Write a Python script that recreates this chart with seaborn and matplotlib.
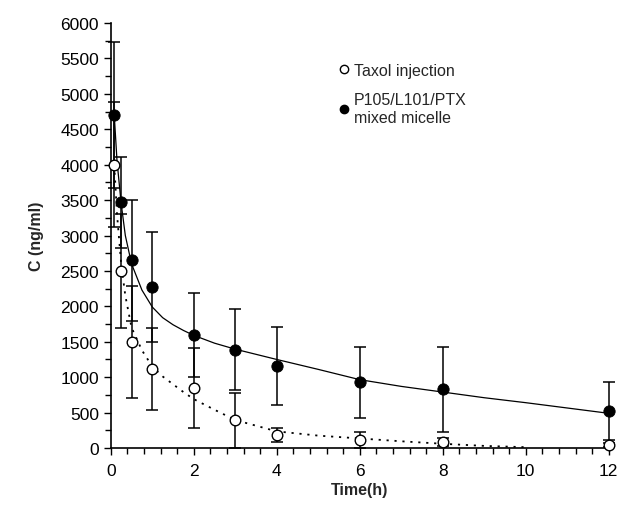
import numpy as np
import pandas as pd
import seaborn as sns
import matplotlib.pyplot as plt
from matplotlib.ticker import MultipleLocator
from matplotlib.lines import Line2D

# measured points (mean, sd)
time_pts = [0.083, 0.25, 0.5, 1, 2, 3, 4, 6, 8, 12]
taxol_mean = [4000, 2500, 1500, 1110, 850, 390, 180, 113, 85, 42]
taxol_sd = [880, 800, 790, 580, 565, 390, 100, 110, 50, 30]
micelle_mean = [4700, 3470, 2650, 2270, 1600, 1390, 1160, 930, 830, 520]
micelle_sd = [1030, 640, 850, 780, 595, 570, 550, 500, 600, 410]

# fitted curves
fit_time = [0.083, 0.15, 0.25, 0.35, 0.5, 0.75, 1, 1.25, 1.5, 1.75, 2, 2.5, 3, 4, 5, 6, 7, 8, 9, 10, 11, 12]
micelle_fit = [4700, 4050, 3450, 3000, 2600, 2230, 1990, 1840, 1740, 1660, 1590, 1480, 1395, 1250, 1110, 965, 870, 790, 710, 640, 565, 490]
taxol_fit = [4000, 3300, 2600, 2150, 1700, 1380, 1150, 1010, 900, 790, 690, 540, 395, 235, 175, 135, 95, 60, 30, 12, None, None]

sns.set_style("ticks")
plt.rcParams['font.family'] = ['Liberation Sans', 'DejaVu Sans']

fig = plt.figure(figsize=(6.19, 5.06), dpi=100)
ax = fig.add_axes([0.179, 0.1126, 0.8045, 0.84])

fit = pd.DataFrame({'t': fit_time, 'micelle': micelle_fit, 'taxol': taxol_fit})
sns.lineplot(data=fit, x='t', y='micelle', ax=ax, color='black', lw=0.9)
sns.lineplot(data=fit.dropna(), x='t', y='taxol', ax=ax, color='black', lw=1.3,
             linestyle=(0, (1.2, 3.2)))

for mean, sd in [(taxol_mean, taxol_sd), (micelle_mean, micelle_sd)]:
    eb = ax.errorbar(time_pts, mean, yerr=sd, fmt='none', ecolor='black',
                     elinewidth=1.1, capsize=4, capthick=1.1, zorder=3)
    for art in eb.lines[1] + eb.lines[2]:
        art.set_clip_on(False)

sns.scatterplot(x=time_pts, y=taxol_mean, ax=ax, marker='o', s=58,
                facecolor='white', edgecolor='black', linewidth=1.0, zorder=4,
                clip_on=False)
sns.scatterplot(x=time_pts, y=micelle_mean, ax=ax, marker='o', s=66,
                color='black', edgecolor='black', zorder=5, clip_on=False)

ax.set_xlim(0, 12)
ax.set_ylim(0, 6000)
ax.xaxis.set_major_locator(MultipleLocator(2))
ax.xaxis.set_minor_locator(MultipleLocator(0.4))
ax.yaxis.set_major_locator(MultipleLocator(500))
ax.yaxis.set_minor_locator(MultipleLocator(250))
ax.tick_params(which='both', direction='out', width=1, colors='black', labelsize=12.5)
ax.tick_params(which='major', length=5)
ax.tick_params(which='minor', length=4)
ax.tick_params(axis='x', pad=6)
for sp in ['left', 'bottom']:
    ax.spines[sp].set_linewidth(1.2)
    ax.spines[sp].set_color('black')
ax.spines['top'].set_visible(False)
ax.spines['right'].set_visible(False)

ax.set_xlabel('Time(h)', fontsize=11.5, fontweight='bold', labelpad=3)
ax.set_ylabel('C (ng/ml)', fontsize=11.5, fontweight='bold', labelpad=12)

handles = [Line2D([], [], marker='o', ls='none', mfc='white', mec='black', ms=6),
           Line2D([], [], marker='o', ls='none', mfc='black', mec='black', ms=6)]
ax.legend(handles, ['Taxol injection', 'P105/L101/PTX\nmixed micelle'],
          loc='upper left', bbox_to_anchor=(0.43, 0.94), frameon=False,
          fontsize=11.5, handlelength=0.6, handletextpad=0.3, labelspacing=0.9)

fig.savefig('out.png', dpi=100)
